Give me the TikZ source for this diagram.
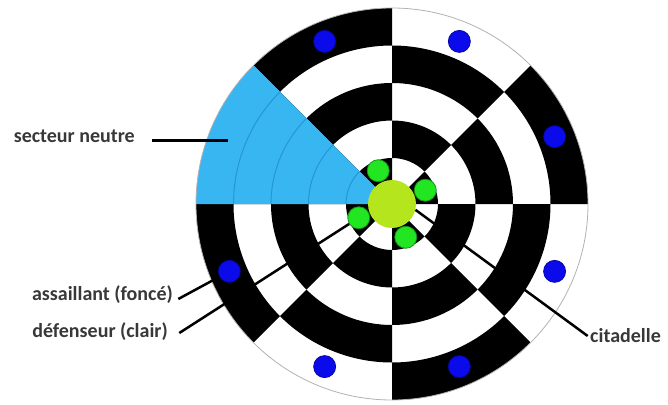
\documentclass[tikz,border=0pt]{standalone}
\usepackage{fontspec}
\setsansfont{Carlito}
\definecolor{neutral}{RGB}{56,182,242}
\definecolor{neutralline}{RGB}{36,150,215}
\definecolor{citadelcol}{RGB}{181,230,29}
\definecolor{guardcol}{RGB}{34,230,34}
\definecolor{attackcol}{RGB}{10,10,235}

\begin{document}
\begin{tikzpicture}[
    x=1pt, y=1pt,
    lbl/.style={font=\sffamily\bfseries\fontsize{20}{24}\selectfont, text=black!78},
    leader/.style={line width=2.5pt, black},
    attacker/.style={circle, fill=attackcol, draw=attackcol!70!black, line width=0.8pt, minimum size=22pt, inner sep=0pt},
    defender/.style={circle, fill=guardcol, draw=guardcol!65!black, line width=0.8pt, minimum size=22pt, inner sep=0pt}
]
    \useasboundingbox (-392,-200) rectangle (276,204);

    % Board
    \fill[white] (0,0) circle[radius=196pt];
    \foreach \rin [count=\i] in {8.5,46,83.5,121,158.5} {
        \pgfmathsetmacro{\rout}{\rin+37.5}
        \foreach \s in {0,...,7} {
            \pgfmathtruncatemacro{\odd}{mod(\i+\s,2)}
            \ifnum\odd=1
                \fill[black] (\s*45:\rin pt) -- (\s*45:\rout pt)
                    arc[start angle=\s*45, end angle=\s*45+45, radius=\rout pt]
                    -- (\s*45+45:\rin pt)
                    arc[start angle=\s*45+45, end angle=\s*45, radius=\rin pt] -- cycle;
            \fi
        }
    }

    % Neutral sector
    \fill[neutral] (0,0) -- (135:196pt) arc[start angle=135, end angle=180, radius=196pt] -- cycle;
    \foreach \rin in {46,83.5,121,158.5}
        \draw[neutralline, line width=1pt] (135:\rin pt) arc[start angle=135, end angle=180, radius=\rin pt];
    \draw[black!30, line width=0.8pt] (0,0) circle[radius=196pt];

    % Citadel and pieces
    \node[circle, fill=citadelcol, minimum size=48pt, inner sep=0pt] (citadel) at (0,0) {};
    \foreach \a [count=\i] in {22.5,67.5,112.5,202.5,247.5,292.5,337.5}
        \node[attacker] (dot\i) at (\a:176pt) {};
    \foreach \a [count=\i] in {22.5,112.5,202.5,292.5}
        \node[defender] (guard\i) at (\a:36pt) {};

    % Labels
    \node[lbl, anchor=base east] (secteur_label) at (-253.7,61) {secteur neutre};
    \node[lbl, anchor=base east] (assail_label) at (-215.7,-96) {assaillant (foncé)};
    \node[lbl, anchor=base east] (def_label) at (-220.7,-133) {défenseur (clair)};
    \node[lbl, anchor=base west] (cit_label) at (194.7,-138) {citadelle};
    \coordinate (neutre_pt) at (-164,63);

    % Leaders
    \draw[leader, line width=3pt] ([shift={(14pt,2pt)}]secteur_label.base east) -- (neutre_pt);
    \draw[leader] ([shift={(2pt,1pt)}]assail_label.base east) -- (dot4);
    \draw[leader] ([shift={(8pt,4pt)}]def_label.base east) -- (guard3);
    \draw[leader] ([shift={(1pt,6pt)}]cit_label.base west) -- (citadel.-14);

\end{tikzpicture}
\end{document}
